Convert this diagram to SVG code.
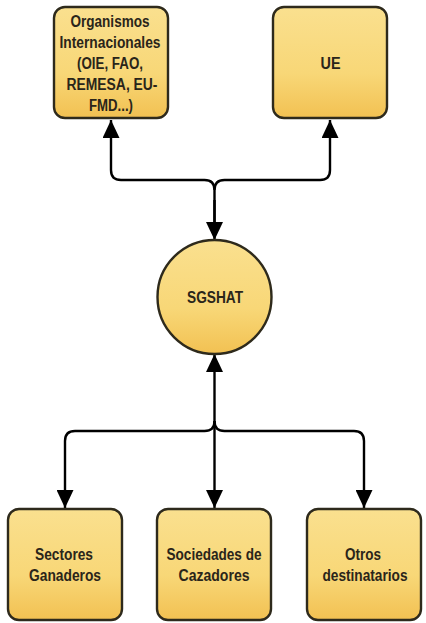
<svg xmlns="http://www.w3.org/2000/svg" width="426" height="623" viewBox="0 0 426 623">
<style>
.n{fill:url(#g);stroke:#2e2a1c;stroke-width:2.4}
.t{font-family:"Liberation Sans",Arial,sans-serif;font-size:16px;font-weight:bold;fill:#2a251a;text-anchor:middle}
.c{fill:none;stroke:#000;stroke-width:2.4}
</style>
<defs>
<linearGradient id="g" x1="0" y1="0" x2="0" y2="1"><stop offset="0" stop-color="#fae08f"/><stop offset="0.6" stop-color="#f8d777"/><stop offset="1" stop-color="#f2c152"/></linearGradient>
<marker id="a" markerUnits="userSpaceOnUse" markerWidth="18" markerHeight="17" refX="18" refY="8.500" orient="auto"><path d="M0 0L18 8.500L0 17Z" fill="#000"/></marker>
</defs>
<rect width="426" height="623" fill="#fff"/>
<g id="connectors">
<path class="c" d="M214.500 222V190Q214.500 180 204.500 180H121Q111 180 111 170V120" marker-end="url(#a)"/>
<path class="c" d="M214.500 190Q214.500 180 224.500 180H320Q330 180 330 170V120" marker-end="url(#a)"/>
<path class="c" d="M214.500 200V240" marker-end="url(#a)"/>
<path class="c" d="M214.500 431V354" marker-end="url(#a)"/>
<path class="c" d="M214.500 421Q214.500 431 204.500 431H75Q65 431 65 441V508" marker-end="url(#a)"/>
<path class="c" d="M214.500 431V508" marker-end="url(#a)"/>
<path class="c" d="M214.500 421Q214.500 431 224.500 431H354Q364 431 364 441V508" marker-end="url(#a)"/>
</g>
<g id="organismos"><rect class="n" x="54" y="7" width="114" height="111" rx="11"/>
<text class="t" textLength="79" lengthAdjust="spacingAndGlyphs" x="110" y="27">Organismos</text>
<text class="t" textLength="101" lengthAdjust="spacingAndGlyphs" x="110" y="48">Internacionales</text>
<text class="t" textLength="66" lengthAdjust="spacingAndGlyphs" x="110" y="69">(OIE, FAO,</text>
<text class="t" textLength="91" lengthAdjust="spacingAndGlyphs" x="112" y="90">REMESA, EU-</text>
<text class="t" textLength="44" lengthAdjust="spacingAndGlyphs" x="111" y="111">FMD...)</text></g>
<g id="ue"><rect class="n" x="273" y="7" width="114" height="111" rx="11"/>
<text class="t" textLength="20" lengthAdjust="spacingAndGlyphs" x="330.500" y="69">UE</text></g>
<g id="sgshat"><circle class="n" cx="214.500" cy="297" r="57"/>
<text class="t" textLength="56" lengthAdjust="spacingAndGlyphs" x="215" y="303">SGSHAT</text></g>
<g id="sectores"><rect class="n" x="8" y="509" width="114" height="111" rx="11"/>
<text class="t" textLength="58" lengthAdjust="spacingAndGlyphs" x="64" y="560">Sectores</text>
<text class="t" textLength="72" lengthAdjust="spacingAndGlyphs" x="65" y="581">Ganaderos</text></g>
<g id="sociedades"><rect class="n" x="157" y="509" width="114" height="111" rx="11"/>
<text class="t" textLength="95" lengthAdjust="spacingAndGlyphs" x="214" y="560">Sociedades de</text>
<text class="t" textLength="71" lengthAdjust="spacingAndGlyphs" x="214" y="581">Cazadores</text></g>
<g id="otros"><rect class="n" x="307" y="509" width="114" height="111" rx="11"/>
<text class="t" textLength="36" lengthAdjust="spacingAndGlyphs" x="363" y="560">Otros</text>
<text class="t" textLength="85" lengthAdjust="spacingAndGlyphs" x="365" y="581">destinatarios</text></g>
</svg>
